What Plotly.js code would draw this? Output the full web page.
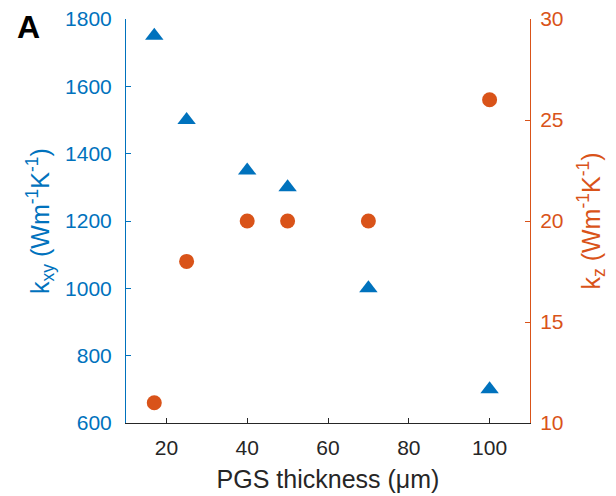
<!DOCTYPE html>
<html><head><meta charset="utf-8">
<script src="https://cdn.plot.ly/plotly-3.0.1.min.js"></script>
<style>html,body{margin:0;padding:0;background:#fff}#chart{width:616px;height:496px}</style>
</head><body><div id="chart"></div>
<script>
const thickness = [17, 25, 40, 50, 70, 100];
const kxy = [1750, 1500, 1350, 1300, 1000, 700];
const kz = [11, 18, 20, 20, 20, 26];
const xTicks = [20, 40, 60, 80, 100];
const blue = '#0072BD', orange = '#D95319';
const font = 'Liberation Sans, Arial, sans-serif';

const traces = [
  {x: thickness, y: kxy, type: 'scatter', mode: 'markers', yaxis: 'y',
   marker: {symbol: 'triangle-up', size: 16, color: blue}},
  {x: thickness, y: kz, type: 'scatter', mode: 'markers', yaxis: 'y2',
   marker: {symbol: 'circle', size: 15, color: orange}}
];
const layout = {
  width: 616, height: 496,
  margin: {l: 126, r: 86, t: 19, b: 73},
  showlegend: false,
  paper_bgcolor: '#fff', plot_bgcolor: '#fff',
  font: {family: font, size: 21, color: '#262626'},
  xaxis: {range: [10, 110], tickvals: xTicks, ticks: 'inside', ticklen: 5, tickcolor: '#262626',
    showline: true, linecolor: '#262626', linewidth: 1, showgrid: false, zeroline: false,
    ticklabelstandoff: 6,
    tickfont: {size: 21, color: '#262626'},
    title: {text: 'PGS thickness (μm)', font: {size: 25, color: '#262626'}, standoff: 12}},
  yaxis: {range: [600, 1800], dtick: 200, ticks: 'inside', ticklen: 5, tickcolor: blue,
    showline: true, linecolor: blue, linewidth: 1, showgrid: false, zeroline: false,
    ticklabelstandoff: 9,
    tickfont: {size: 21, color: blue},
    title: {text: 'k<sub>xy</sub> (Wm<sup>-1</sup>K<sup>-1</sup>)', font: {size: 25, color: blue}, standoff: 8}},
  yaxis2: {range: [10, 30], dtick: 5, overlaying: 'y', side: 'right', ticks: 'inside', ticklen: 5, tickcolor: orange,
    showline: true, linecolor: orange, linewidth: 1, showgrid: false, zeroline: false,
    ticklabelstandoff: 5,
    tickfont: {size: 21, color: orange},
    title: {text: 'k<sub>z</sub> (Wm<sup>-1</sup>K<sup>-1</sup>)', font: {size: 25, color: orange}, standoff: 19}},
  annotations: [{text: '<b>A</b>', showarrow: false, xanchor: 'left', yanchor: 'middle',
    xref: 'paper', yref: 'paper',
    x: (15 - 126) / (616 - 126 - 86), y: 1 - (27 - 19) / (496 - 19 - 73),
    font: {size: 32, color: '#000', family: font}}]
};
Plotly.newPlot('chart', traces, layout, {displayModeBar: false, staticPlot: true});
</script></body></html>
